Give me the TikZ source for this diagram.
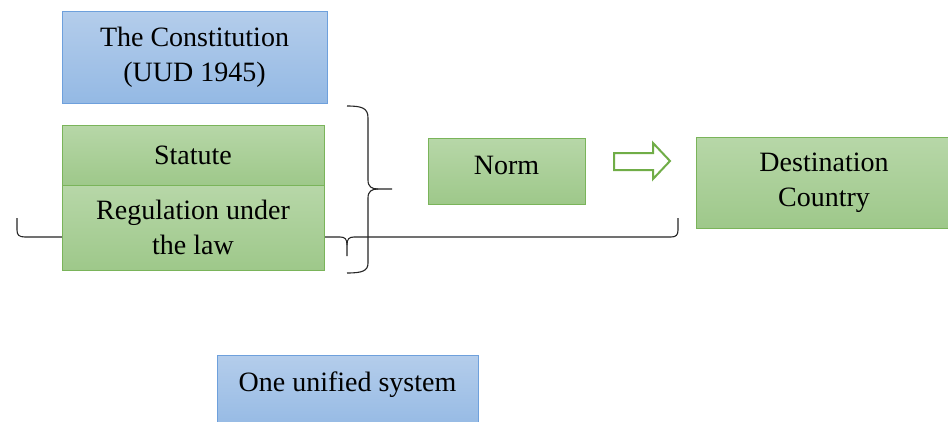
\documentclass[tikz,border=0pt]{standalone}
\usepackage{fontspec}
\setmainfont{Liberation Serif}
\begin{document}
\begin{tikzpicture}[x=1pt,y=-1pt,
  greenbox/.style={rectangle, draw=grnline, line width=1pt, top color=grntop, bottom color=grnbot,
    align=center, inner sep=0pt, font=\fontsize{28}{35}\selectfont},
  bluebox/.style={rectangle, draw=bluline, line width=1pt, top color=blutop, bottom color=blubot,
    align=center, inner sep=0pt, font=\fontsize{28}{35}\selectfont},
  bracestyle/.style={draw=black!85, line width=1.1pt, line join=round},
  blockarrow/.style={draw=grnarrow, line width=2pt, fill=white, line join=miter}]
\definecolor{grntop}{RGB}{183,215,168}
\definecolor{grnbot}{RGB}{158,200,138}
\definecolor{grnline}{RGB}{122,180,90}
\definecolor{grnarrow}{RGB}{112,173,71}
\definecolor{blutop}{RGB}{180,205,235}
\definecolor{blubot}{RGB}{148,185,228}
\definecolor{bluline}{RGB}{110,160,220}
\useasboundingbox (0,0) rectangle (948,421);
\fill[white] (0,0) rectangle (948,421);

% constitution
\node[bluebox, minimum width=265pt, minimum height=92pt] (const) at (194.5,57) {The Constitution\\(UUD 1945)};

% horizontal brace (behind the regulation box)
\coordinate (hl) at (17,218);
\coordinate (hr) at (678,218);
\coordinate (ht) at (347,256);
\path[bracestyle] (hl) -- (17,230) .. controls (17,235) and (19,237) .. (25,237) -- (340,237)
  .. controls (345,237) and (347,239) .. (347,245) -- (ht);
\path[bracestyle] (347,245) .. controls (347,239) and (349,237) .. (354,237) -- (671,237)
  .. controls (676,237) and (678,235) .. (678,230) -- (hr);

% statute and regulation
\node[greenbox, minimum width=262pt, minimum height=60pt] (statute) at (193,155) {Statute};
\node[greenbox, minimum width=262pt, minimum height=85pt] (reg) at (193,227.5) {Regulation under\\the law};

% big right brace
\coordinate (bt) at (347,106);
\coordinate (bb) at (347,273);
\coordinate (btip) at (392,189);
\path[bracestyle] (bt) .. controls (362,106) and (368,108) .. (368,118) -- (368,180)
  .. controls (368,187) and (372,189) .. (378,189) -- (btip);
\path[bracestyle] (378,189) .. controls (372,189) and (368,191) .. (368,198) -- (368,263)
  .. controls (368,271) and (362,273) .. (bb);

% norm
\node[greenbox, minimum width=157pt, text height=36pt, text depth=30pt, anchor=base] (norm) at (506.5,174) {Norm};

% block arrow
\path[blockarrow] (614,153) -- (653,153) -- (653,143) -- (670,161) -- (653,179) -- (653,170) -- (614,170) -- cycle;

% destination
\node[greenbox, minimum width=256pt, minimum height=91pt] (dest) at (824,182.5) {Destination\\Country};

% one unified system
\node[bluebox, minimum width=261pt, text height=36pt, text depth=40pt, anchor=base] (unified) at (347.5,391) {One unified system};
\end{tikzpicture}
\end{document}
